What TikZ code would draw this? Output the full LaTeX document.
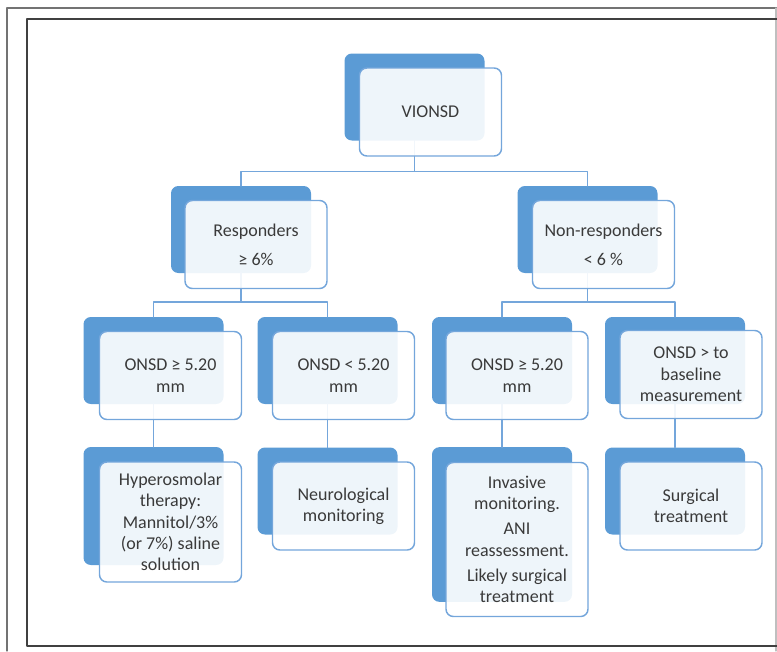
\documentclass[tikz,border=0pt]{standalone}
\usepackage{fontspec}
\setmainfont{Carlito}
\definecolor{boxblue}{HTML}{5B9BD5}
\definecolor{edgeblue}{HTML}{74A6DB}
\definecolor{textgray}{HTML}{3A3A3A}

\begin{document}
\begin{tikzpicture}[line cap=round,line join=round,x=0.75pt,y=-0.75pt,
	back/.style={rectangle,rounded corners=5.5pt,fill=boxblue,inner sep=0pt,outer sep=0pt,minimum width=105pt,minimum height=65.25pt},
	front/.style={rectangle,rounded corners=5.5pt,draw=edgeblue,line width=1.1pt,fill=white,fill opacity=0.9,text opacity=1,text=textgray,inner sep=0pt,outer sep=0pt,minimum width=106.5pt,minimum height=66pt,align=center,font=\fontsize{13.5}{16}\selectfont},
	link/.style={draw=edgeblue,line width=1.1pt}]
				\useasboundingbox (0,0) rectangle (777,651);
				\draw [line width=0.8pt,color=black!55] (7,651)-- (7,8)-- (777,8);
				\draw [line width=0.8pt,color=black!25] (776,8)-- (776,651);
				\draw [line width=1.4pt,color=black!75] (777,19)-- (27,19)-- (27,646)-- (777,646);
				\node[back] (vionsdB) at (414.5,97) {};
				\node[back] (respB) at (241,229.5) {};
				\node[back] (nonrespB) at (587.5,229.5) {};
				\node[back] (highLB) at (153.5,360.5) {};
				\node[back] (lowLB) at (327.5,360.5) {};
				\node[back] (highRB) at (502,360.5) {};
				\node[back] (baseRB) at (675,360.5) {};
				\node[back,minimum height=88.5pt] (hyperB) at (153.5,506) {};
				\node[back] (neuroB) at (327.5,491) {};
				\node[back,minimum height=116pt] (invasB) at (502,524.5) {};
				\node[back] (surgB) at (675,491) {};
				\draw [link] (vionsdB.south) -- ++(0,31) -| (respB.north);
				\draw [link] (vionsdB.south) -- ++(0,31) -| (nonrespB.north);
				\draw [link] (respB.south) -- ++(0,29) -| (highLB.north);
				\draw [link] (respB.south) -- ++(0,29) -| (lowLB.north);
				\draw [link] (nonrespB.south) -- ++(0,29) -| (highRB.north);
				\draw [link] (nonrespB.south) -- ++(0,29) -| (baseRB.north);
				\draw [link] (highLB.south) -- (hyperB.north);
				\draw [link] (lowLB.south) -- (neuroB.north);
				\draw [link] (highRB.south) -- (invasB.north);
				\draw [link] (baseRB.south) -- (surgB.north);
				\node[front] (vionsd) at ([shift={(16,15)}]vionsdB.center) {VIONSD};
				\node[front] (resp) at ([shift={(15,15)}]respB.center) {Responders\\[6pt]≥ 6\%};
				\node[front] (nonresp) at ([shift={(16,15)}]nonrespB.center) {Non-responders\\[6pt]< 6 \%};
				\node[front] (highL) at ([shift={(17,15)}]highLB.center) {ONSD ≥ 5.20\\mm};
				\node[front] (lowL) at ([shift={(16,15)}]lowLB.center) {ONSD < 5.20\\mm};
				\node[front] (highR) at ([shift={(15,15)}]highRB.center) {ONSD ≥ 5.20\\mm};
				\node[front] (baseR) at ([shift={(16,14)}]baseRB.center) {ONSD > to\\baseline\\measurement};
				\node[front,minimum height=90pt] (hyper) at ([shift={(17,16)}]hyperB.center) {Hyperosmolar\\therapy:\\Mannitol/3\%\\(or 7\%) saline\\solution};
				\node[front] (neuro) at ([shift={(16,15)}]neuroB.center) {Neurological\\monitoring};
				\node[front,minimum height=115.5pt] (invas) at ([shift={(15,15)}]invasB.center) {Invasive\\monitoring.\\[3pt]ANI\\reassessment.\\[3pt]Likely surgical\\treatment};
				\node[front] (surg) at ([shift={(16,15)}]surgB.center) {Surgical\\treatment};
			\end{tikzpicture}
\end{document}
